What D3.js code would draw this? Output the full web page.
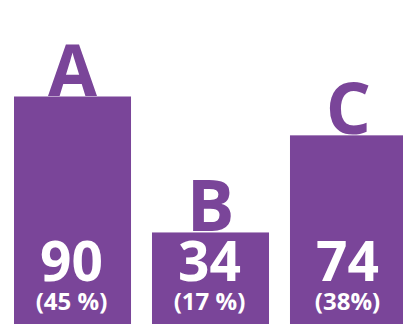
<!DOCTYPE html>
<html>
<head>
<meta charset="utf-8">
<script src="https://cdn.jsdelivr.net/npm/d3@7"></script>
<style>
  html, body { margin: 0; padding: 0; background: #fff; overflow: hidden; }
  svg { display: block; }
  text { font-family: "Open Sans", "Noto Sans", sans-serif; font-weight: 700; }
</style>
</head>
<body>
<svg id="chart" width="403" height="324"></svg>
<script>
// Category names, counts and share labels
const categories = ["A", "B", "C"];
const counts = [90, 34, 74];
const shareLabels = ["(45 %)", "(17 %)", "(38%)"];

const W = 403, H = 324;
const purple = "#7a4599";

const svg = d3.select("#chart");

const x = d3.scaleBand()
  .domain(categories)
  .range([14, 407])
  .paddingInner(0.152)
  .paddingOuter(0);

// Zero sits a little above the bottom edge; bars run down to the edge.
const y = d3.scaleLinear()
  .domain([0, 90])
  .range([315, 96.5]);

const rows = categories.map((c, i) => ({ cat: c, n: counts[i], share: shareLabels[i] }));

const g = svg.selectAll("g.bar")
  .data(rows)
  .join("g")
  .attr("class", "bar");

g.append("rect")
  .attr("x", d => x(d.cat))
  .attr("y", d => y(d.n))
  .attr("width", x.bandwidth())
  .attr("height", d => H - y(d.n))
  .attr("fill", purple);

// Category letter standing on top of each bar
g.append("text")
  .attr("x", d => x(d.cat) + x.bandwidth() / 2)
  .attr("y", d => y(d.n) - 1)
  .attr("text-anchor", "middle")
  .attr("font-size", 71)
  .attr("fill", purple)
  .text(d => d.cat);

// Count inside the bar
g.append("text")
  .attr("x", d => x(d.cat) + x.bandwidth() / 2 - 1)
  .attr("y", 281)
  .attr("text-anchor", "middle")
  .attr("font-size", 55)
  .attr("fill", "#fff")
  .text(d => d.n);

// Share of total below the count
g.append("text")
  .attr("x", d => x(d.cat) + x.bandwidth() / 2 - 1)
  .attr("y", 310)
  .attr("text-anchor", "middle")
  .attr("font-size", 24)
  .attr("fill", "#fff")
  .text(d => d.share);
</script>
</body>
</html>
